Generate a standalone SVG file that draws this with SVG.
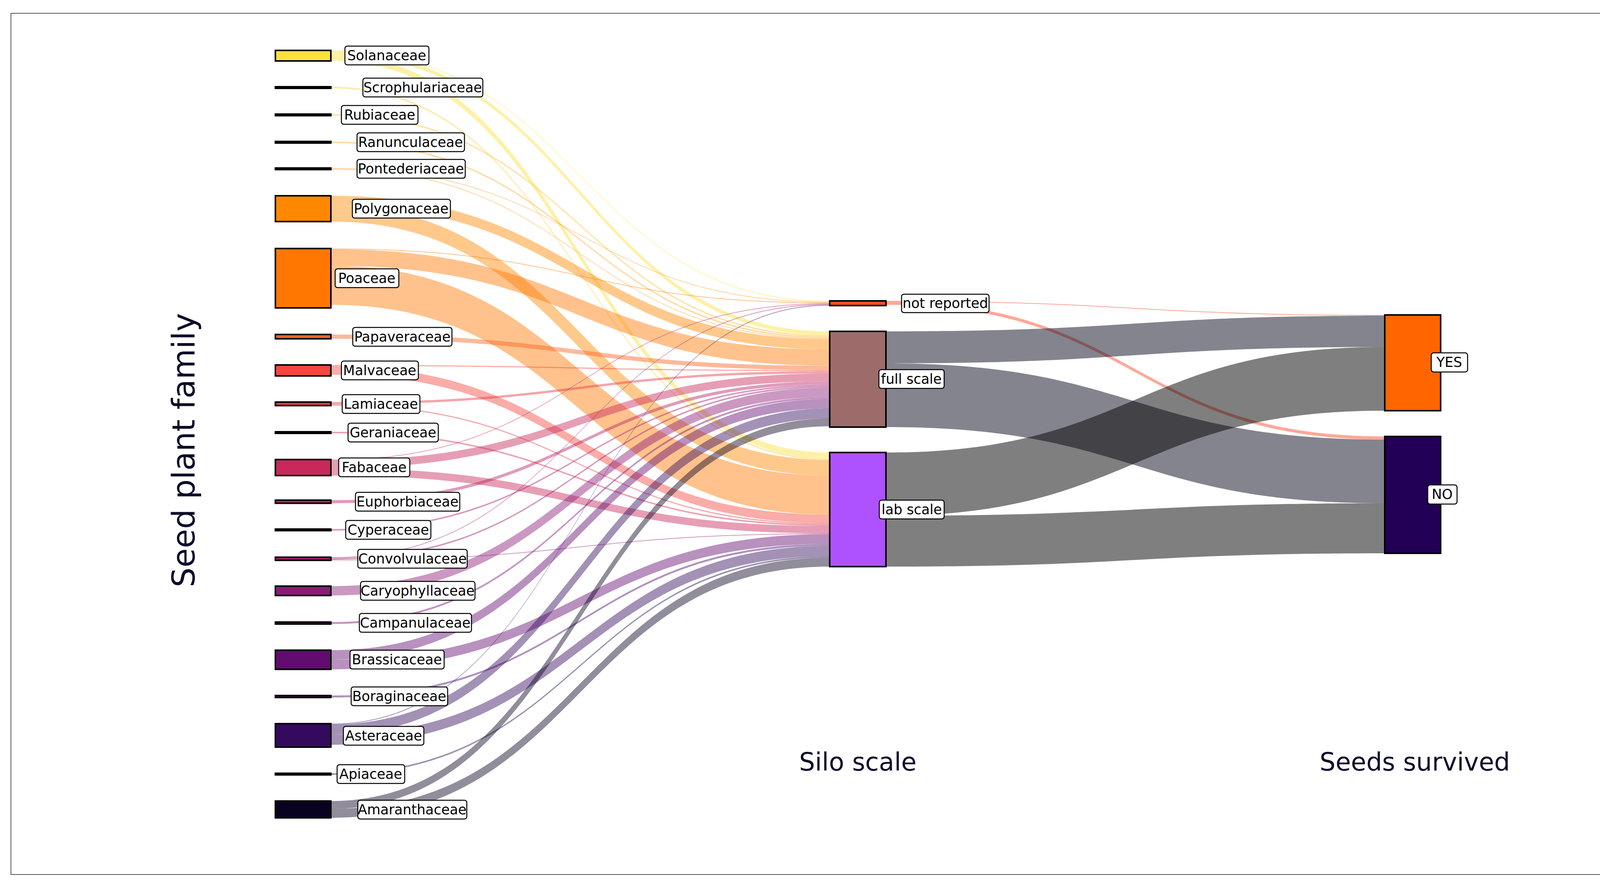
<svg xmlns="http://www.w3.org/2000/svg" width="4386" height="2270" viewBox="0 0 4386 2270">
<style>
.lk{fill-opacity:0.45}
.nd{stroke:#000;stroke-width:4}
.lb rect{fill:#fff;stroke:#000;stroke-width:2.5}
.lb text{font-family:"DejaVu Sans",sans-serif;font-size:35px;fill:#000;text-anchor:middle;dominant-baseline:central}
.ax{font-family:"DejaVu Sans",sans-serif;fill:#0d0a29;text-anchor:middle}
</style>
<rect x="0" y="0" width="4386" height="2270" fill="#fff"/>
<rect x="28" y="34" width="4327" height="2204" fill="none" stroke="#555" stroke-width="2"/>
<g id="connectors">
<path class="lk" fill="#fbe13c" d="M847,129 C1486,129 1486,770 2124,770 L2124,772 C1486,772 1486,131 847,131Z"/>
<path class="lk" fill="#fbe13c" d="M847,131 C1486,131 1486,848 2124,848 L2124,858 C1486,858 1486,141 847,141Z"/>
<path class="lk" fill="#fbe13c" d="M847,141 C1486,141 1486,1158 2124,1158 L2124,1173 C1486,1173 1486,156 847,156Z"/>
<path class="lk" fill="#fbd040" d="M847,222 C1486,222 1486,1173 2124,1173 L2124,1177 C1486,1177 1486,226 847,226Z"/>
<path class="lk" fill="#fcc037" d="M847,292 C1486,292 1486,858 2124,858 L2124,862 C1486,862 1486,296 847,296Z"/>
<path class="lk" fill="#fcb030" d="M847,362 C1486,362 1486,862 2124,862 L2124,866 C1486,866 1486,366 847,366Z"/>
<path class="lk" fill="#fca02a" d="M847,430 C1486,430 1486,772 2124,772 L2124,774 C1486,774 1486,432 847,432Z"/>
<path class="lk" fill="#fca02a" d="M847,432 C1486,432 1486,866 2124,866 L2124,868 C1486,868 1486,434 847,434Z"/>
<path class="lk" fill="#ff8800" d="M847,501 C1486,501 1486,868 2124,868 L2124,894 C1486,894 1486,527 847,527Z"/>
<path class="lk" fill="#ff8800" d="M847,527 C1486,527 1486,1177 2124,1177 L2124,1217 C1486,1217 1486,567 847,567Z"/>
<path class="lk" fill="#ff7700" d="M847,636 C1486,636 1486,774 2124,774 L2124,776 C1486,776 1486,638 847,638Z"/>
<path class="lk" fill="#ff7700" d="M847,638 C1486,638 1486,894 2124,894 L2124,936 C1486,936 1486,680 847,680Z"/>
<path class="lk" fill="#ff7700" d="M847,680 C1486,680 1486,1217 2124,1217 L2124,1317 C1486,1317 1486,780 847,780Z"/>
<path class="lk" fill="#f76420" d="M847,856 C1486,856 1486,936 2124,936 L2124,947 C1486,947 1486,867 847,867Z"/>
<path class="lk" fill="#f4463f" d="M847,934 C1486,934 1486,947 2124,947 L2124,950 C1486,950 1486,937 847,937Z"/>
<path class="lk" fill="#f4463f" d="M847,937 C1486,937 1486,1317 2124,1317 L2124,1339 C1486,1339 1486,959 847,959Z"/>
<path class="lk" fill="#e53a45" d="M847,1029 C1486,1029 1486,950 2124,950 L2124,956 C1486,956 1486,1035 847,1035Z"/>
<path class="lk" fill="#e53a45" d="M847,1035 C1486,1035 1486,1339 2124,1339 L2124,1342 C1486,1342 1486,1038 847,1038Z"/>
<path class="lk" fill="#d8304f" d="M847,1105 C1486,1105 1486,1342 2124,1342 L2124,1346 C1486,1346 1486,1109 847,1109Z"/>
<path class="lk" fill="#c8285a" d="M847,1176 C1486,1176 1486,776 2124,776 L2124,778 C1486,778 1486,1178 847,1178Z"/>
<path class="lk" fill="#c8285a" d="M847,1178 C1486,1178 1486,956 2124,956 L2124,976 C1486,976 1486,1198 847,1198Z"/>
<path class="lk" fill="#c8285a" d="M847,1198 C1486,1198 1486,1346 2124,1346 L2124,1365 C1486,1365 1486,1217 847,1217Z"/>
<path class="lk" fill="#b82266" d="M847,1280 C1486,1280 1486,976 2124,976 L2124,984 C1486,984 1486,1288 847,1288Z"/>
<path class="lk" fill="#ac1e6a" d="M847,1354 C1486,1354 1486,984 2124,984 L2124,988 C1486,988 1486,1358 847,1358Z"/>
<path class="lk" fill="#a01a6e" d="M847,1426 C1486,1426 1486,778 2124,778 L2124,780 C1486,780 1486,1428 847,1428Z"/>
<path class="lk" fill="#a01a6e" d="M847,1428 C1486,1428 1486,988 2124,988 L2124,992 C1486,992 1486,1432 847,1432Z"/>
<path class="lk" fill="#a01a6e" d="M847,1432 C1486,1432 1486,1365 2124,1365 L2124,1367 C1486,1367 1486,1434 847,1434Z"/>
<path class="lk" fill="#8c1a78" d="M847,1500 C1486,1500 1486,992 2124,992 L2124,1016 C1486,1016 1486,1524 847,1524Z"/>
<path class="lk" fill="#7a1477" d="M847,1592 C1486,1592 1486,1016 2124,1016 L2124,1021 C1486,1021 1486,1597 847,1597Z"/>
<path class="lk" fill="#620c70" d="M847,1664 C1486,1664 1486,1021 2124,1021 L2124,1045 C1486,1045 1486,1688 847,1688Z"/>
<path class="lk" fill="#620c70" d="M847,1688 C1486,1688 1486,1367 2124,1367 L2124,1392 C1486,1392 1486,1713 847,1713Z"/>
<path class="lk" fill="#4c0b6a" d="M847,1780 C1486,1780 1486,1392 2124,1392 L2124,1397 C1486,1397 1486,1785 847,1785Z"/>
<path class="lk" fill="#340a5e" d="M847,1852 C1486,1852 1486,780 2124,780 L2124,782 C1486,782 1486,1854 847,1854Z"/>
<path class="lk" fill="#340a5e" d="M847,1854 C1486,1854 1486,1045 2124,1045 L2124,1071 C1486,1071 1486,1880 847,1880Z"/>
<path class="lk" fill="#340a5e" d="M847,1880 C1486,1880 1486,1397 2124,1397 L2124,1423 C1486,1423 1486,1906 847,1906Z"/>
<path class="lk" fill="#1e0848" d="M847,1979 C1486,1979 1486,1423 2124,1423 L2124,1427 C1486,1427 1486,1983 847,1983Z"/>
<path class="lk" fill="#0a0221" d="M847,2050 C1486,2050 1486,1071 2124,1071 L2124,1091 C1486,1091 1486,2070 847,2070Z"/>
<path class="lk" fill="#0a0221" d="M847,2070 C1486,2070 1486,1427 2124,1427 L2124,1450 C1486,1450 1486,2093 847,2093Z"/>
<path fill="#ff5030" fill-opacity="0.5" d="M2268,770 C2906,770 2906,806 3545,806 L3545,808 C2906,808 2906,772 2268,772Z"/>
<path fill="#ff5030" fill-opacity="0.5" d="M2268,772 C2906,772 2906,1117 3545,1117 L3545,1125 C2906,1125 2906,780 2268,780Z"/>
<path fill="#0a0a1e" fill-opacity="0.5" d="M2268,848 C2906,848 2906,808 3545,808 L3545,888 C2906,888 2906,930 2268,930Z"/>
<path fill="#0a0a1e" fill-opacity="0.5" d="M2268,930 C2906,930 2906,1125 3545,1125 L3545,1288 C2906,1288 2906,1093 2268,1093Z"/>
<path fill="#000" fill-opacity="0.5" d="M2268,1158 C2906,1158 2906,888 3545,888 L3545,1051 C2906,1051 2906,1320 2268,1320Z"/>
<path fill="#000" fill-opacity="0.5" d="M2268,1320 C2906,1320 2906,1288 3545,1288 L3545,1416 C2906,1416 2906,1450 2268,1450Z"/>
</g>
<g id="nodes">
<g id="n-solanaceae"><rect class="nd" x="705" y="129" width="142" height="27" fill="#fbe13c"/><g class="lb"><rect x="883" y="118" width="215" height="48" rx="6"/><text x="990" y="142">Solanaceae</text></g></g>
<g id="n-scrophulariaceae"><rect class="nd" x="705" y="222" width="142" height="4" fill="#fbd040"/><g class="lb"><rect x="929" y="200" width="307" height="48" rx="6"/><text x="1082" y="224">Scrophulariaceae</text></g></g>
<g id="n-rubiaceae"><rect class="nd" x="705" y="292" width="142" height="4" fill="#fcc037"/><g class="lb"><rect x="874" y="270" width="196" height="48" rx="6"/><text x="972" y="294">Rubiaceae</text></g></g>
<g id="n-ranunculaceae"><rect class="nd" x="705" y="362" width="142" height="4" fill="#fcb030"/><g class="lb"><rect x="914" y="340" width="275" height="48" rx="6"/><text x="1051" y="364">Ranunculaceae</text></g></g>
<g id="n-pontederiaceae"><rect class="nd" x="705" y="430" width="142" height="4" fill="#fca02a"/><g class="lb"><rect x="914" y="408" width="277" height="48" rx="6"/><text x="1052" y="432">Pontederiaceae</text></g></g>
<g id="n-polygonaceae"><rect class="nd" x="705" y="501" width="142" height="66" fill="#ff8800"/><g class="lb"><rect x="902" y="510" width="251" height="48" rx="6"/><text x="1027" y="534">Polygonaceae</text></g></g>
<g id="n-poaceae"><rect class="nd" x="705" y="636" width="142" height="152" fill="#ff7700"/><g class="lb"><rect x="858" y="688" width="163" height="48" rx="6"/><text x="939" y="712">Poaceae</text></g></g>
<g id="n-papaveraceae"><rect class="nd" x="705" y="856" width="142" height="11" fill="#f76420"/><g class="lb"><rect x="903" y="838" width="254" height="48" rx="6"/><text x="1030" y="862">Papaveraceae</text></g></g>
<g id="n-malvaceae"><rect class="nd" x="705" y="934" width="142" height="28" fill="#f4463f"/><g class="lb"><rect x="874" y="924" width="197" height="48" rx="6"/><text x="972" y="948">Malvaceae</text></g></g>
<g id="n-lamiaceae"><rect class="nd" x="705" y="1029" width="142" height="9" fill="#e53a45"/><g class="lb"><rect x="876" y="1010" width="199" height="48" rx="6"/><text x="975" y="1034">Lamiaceae</text></g></g>
<g id="n-geraniaceae"><rect class="nd" x="705" y="1105" width="142" height="4" fill="#d8304f"/><g class="lb"><rect x="891" y="1083" width="231" height="48" rx="6"/><text x="1006" y="1107">Geraniaceae</text></g></g>
<g id="n-fabaceae"><rect class="nd" x="705" y="1176" width="142" height="41" fill="#c8285a"/><g class="lb"><rect x="867" y="1172" width="182" height="48" rx="6"/><text x="958" y="1196">Fabaceae</text></g></g>
<g id="n-euphorbiaceae"><rect class="nd" x="705" y="1280" width="142" height="8" fill="#b82266"/><g class="lb"><rect x="910" y="1260" width="267" height="48" rx="6"/><text x="1043" y="1284">Euphorbiaceae</text></g></g>
<g id="n-cyperaceae"><rect class="nd" x="705" y="1354" width="142" height="4" fill="#ac1e6a"/><g class="lb"><rect x="885" y="1332" width="218" height="48" rx="6"/><text x="994" y="1356">Cyperaceae</text></g></g>
<g id="n-convolvulaceae"><rect class="nd" x="705" y="1426" width="142" height="8" fill="#a01a6e"/><g class="lb"><rect x="916" y="1406" width="280" height="48" rx="6"/><text x="1056" y="1430">Convolvulaceae</text></g></g>
<g id="n-caryophyllaceae"><rect class="nd" x="705" y="1500" width="142" height="24" fill="#8c1a78"/><g class="lb"><rect x="923" y="1488" width="293" height="48" rx="6"/><text x="1069" y="1512">Caryophyllaceae</text></g></g>
<g id="n-campanulaceae"><rect class="nd" x="705" y="1592" width="142" height="5" fill="#7a1477"/><g class="lb"><rect x="920" y="1570" width="287" height="48" rx="6"/><text x="1063" y="1594">Campanulaceae</text></g></g>
<g id="n-brassicaceae"><rect class="nd" x="705" y="1664" width="142" height="49" fill="#620c70"/><g class="lb"><rect x="896" y="1664" width="241" height="48" rx="6"/><text x="1016" y="1688">Brassicaceae</text></g></g>
<g id="n-boraginaceae"><rect class="nd" x="705" y="1780" width="142" height="5" fill="#4c0b6a"/><g class="lb"><rect x="899" y="1758" width="247" height="48" rx="6"/><text x="1022" y="1782">Boraginaceae</text></g></g>
<g id="n-asteraceae"><rect class="nd" x="705" y="1852" width="142" height="60" fill="#340a5e"/><g class="lb"><rect x="879" y="1859" width="206" height="48" rx="6"/><text x="982" y="1883">Asteraceae</text></g></g>
<g id="n-apiaceae"><rect class="nd" x="705" y="1979" width="142" height="4" fill="#1e0848"/><g class="lb"><rect x="863" y="1957" width="173" height="48" rx="6"/><text x="949" y="1981">Apiaceae</text></g></g>
<g id="n-amaranthaceae"><rect class="nd" x="705" y="2050" width="142" height="43" fill="#0a0221"/><g class="lb"><rect x="916" y="2048" width="279" height="48" rx="6"/><text x="1055" y="2072">Amaranthaceae</text></g></g>
<g id="n-notreported"><rect class="nd" x="2124" y="770" width="144" height="12" fill="#f24d24"/><g class="lb"><rect x="2308" y="753" width="224" height="47" rx="6"/><text x="2420" y="776">not reported</text></g></g>
<g id="n-fullscale"><rect class="nd" x="2124" y="848" width="144" height="245" fill="#9e6b6b"/><g class="lb"><rect x="2250" y="946" width="167" height="48" rx="6"/><text x="2333" y="970">full scale</text></g></g>
<g id="n-labscale"><rect class="nd" x="2124" y="1158" width="144" height="292" fill="#ae52ff"/><g class="lb"><rect x="2251" y="1280" width="166" height="48" rx="6"/><text x="2334" y="1304">lab scale</text></g></g>
<g id="n-yes"><rect class="nd" x="3545" y="806" width="143" height="245" fill="#ff6600"/><g class="lb"><rect x="3664" y="903" width="93" height="49" rx="6"/><text x="3710" y="927">YES</text></g></g>
<g id="n-no"><rect class="nd" x="3545" y="1117" width="143" height="299" fill="#220055"/><g class="lb"><rect x="3655" y="1241" width="75" height="49" rx="6"/><text x="3692" y="1265">NO</text></g></g>
</g>
<text class="ax" x="0" y="0" font-size="80" transform="translate(498,1152) rotate(-90)">Seed plant family</text>
<text class="ax" x="2196" y="1972" font-size="64">Silo scale</text>
<text class="ax" x="3622" y="1972" font-size="64">Seeds survived</text>
</svg>
